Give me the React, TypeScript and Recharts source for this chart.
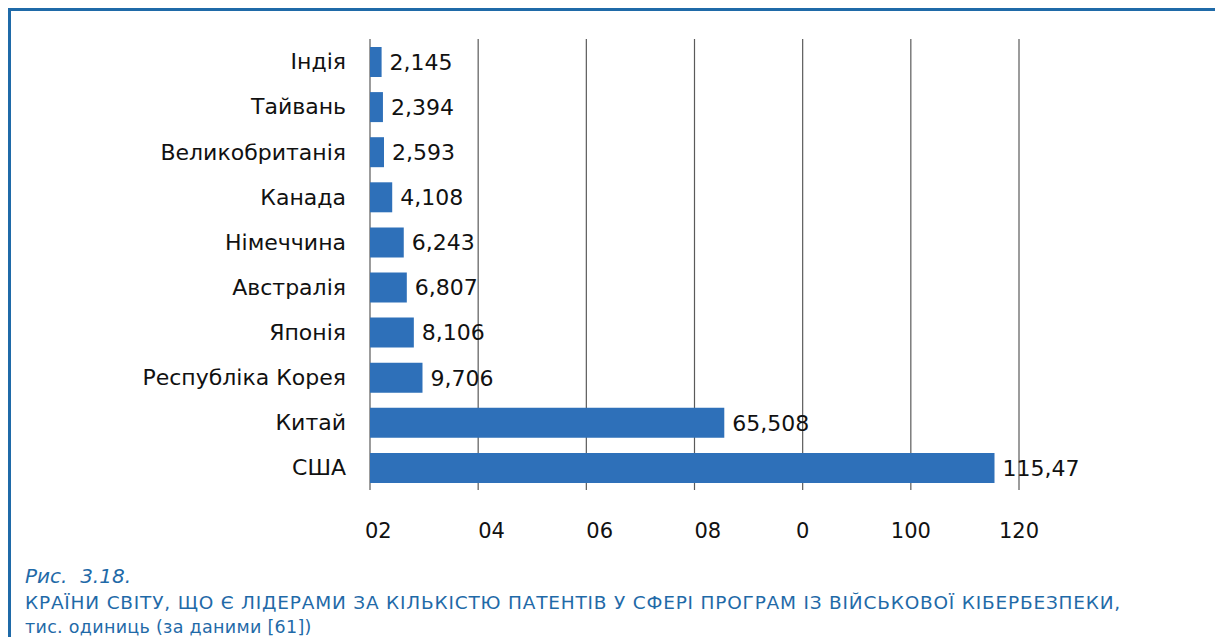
import React from 'react';
import { BarChart, Bar, XAxis, YAxis, CartesianGrid, LabelList } from 'recharts';

// countries, top to bottom as in the figure
const countries = [
    'Індія',
    'Тайвань',
    'Великобританія',
    'Канада',
    'Німеччина',
    'Австралія',
    'Японія',
    'Республіка Корея',
    'Китай',
    'США',
];

// patents, thousand units
const patents = [2.145, 2.394, 2.593, 4.108, 6.243, 6.807, 8.106, 9.706, 65.508, 115.47];

const xTicks = [0, 20, 40, 60, 80, 100, 120];
// tick labels exactly as printed in the source figure
const xTickLabels = ['02', '04', '06', '08', '0', '100', '120'];

const data = countries.map((name, i) => ({ name, value: patents[i] }));

const FONT = '"DejaVu Sans", Verdana, sans-serif';
const BLUE = '#1f6aa8';

const XTick = (props: any) => {
    const { x, y, payload } = props;
    const label = xTickLabels[xTicks.indexOf(payload.value)] ?? String(payload.value);
    const start = label.length === 2;
    return (
        <text
            x={start && payload.value === 0 ? x - 5 : x}
            y={y}
            dy="0.71em"
            textAnchor={start ? 'start' : 'middle'}
            fontSize={21}
            fontFamily={FONT}
            fill="#111"
        >
            {label}
        </text>
    );
};

export default function App() {
    return (
        <div
            style={{
                position: 'absolute',
                left: 0,
                top: 0,
                width: 1215,
                height: 637,
                background: '#fff',
                overflow: 'hidden',
                fontFamily: FONT,
            }}
        >
            {/* frame: top and left rules */}
            <div style={{ position: 'absolute', left: 8, top: 8, right: 0, height: 3, background: BLUE }} />
            <div style={{ position: 'absolute', left: 8, top: 8, bottom: 0, width: 3, background: BLUE }} />

            <div style={{ position: 'absolute', left: 0, top: 0 }}>
                <BarChart
                    width={1215}
                    height={560}
                    data={data}
                    layout="vertical"
                    margin={{ top: 39, right: 196, left: 0, bottom: 0 }}
                >
                    <CartesianGrid horizontal={false} stroke="#5a5a5a" strokeWidth={1.2} />
                    <XAxis
                        type="number"
                        domain={[0, 120]}
                        ticks={xTicks}
                        axisLine={false}
                        tickLine={false}
                        tickMargin={27}
                        height={70}
                        tick={<XTick />}
                        interval={0}
                    />
                    <YAxis
                        type="category"
                        dataKey="name"
                        width={370}
                        axisLine={false}
                        tickLine={false}
                        tickMargin={18}
                        interval={0}
                        tick={{ fontSize: 22, fontFamily: FONT, fill: '#111' }}
                    />
                    <Bar dataKey="value" fill="#2e70b9" barSize={30} isAnimationActive={false}>
                        <LabelList
                            dataKey="value"
                            position="right"
                            offset={8}
                            formatter={(v: any) => String(v).replace('.', ',')}
                            style={{ fontSize: 22, fontFamily: FONT, fill: '#111' }}
                        />
                    </Bar>
                </BarChart>
            </div>

            {/* caption */}
            <div style={{ position: 'absolute', left: 25, top: 566, color: BLUE, lineHeight: 1 }}>
                <div style={{ fontSize: 20, fontStyle: 'italic', whiteSpace: 'pre' }}>Рис.  3.18.</div>
                <div style={{ fontSize: 18.5, letterSpacing: 0.8, marginTop: 8, whiteSpace: 'nowrap' }}>
                    КРАЇНИ СВІТУ, ЩО Є ЛІДЕРАМИ ЗА КІЛЬКІСТЮ ПАТЕНТІВ У СФЕРІ ПРОГРАМ ІЗ ВІЙСЬКОВОЇ КІБЕРБЕЗПЕКИ,
                </div>
                <div style={{ fontSize: 17.5, letterSpacing: 0.3, marginTop: 6, whiteSpace: 'nowrap' }}>
                    тис. одиниць (за даними [61])
                </div>
            </div>
        </div>
    );
}
